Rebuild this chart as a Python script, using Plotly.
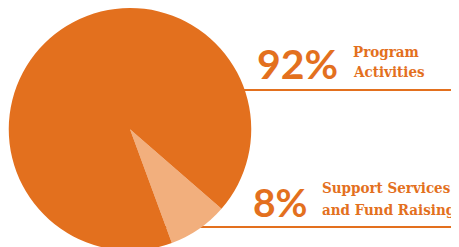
import plotly.graph_objects as go

labels = ["Support Services and Fund Raising", "Program Activities"]
values = [8, 92]
colors = ["#F2AF7D", "#E3701E"]
pct_text = ["8%", "92%"]
desc_lines = [["Support Services", "and Fund Raising"], ["Program", "Activities"]]

OFF = 8  # page body margin
W, H = 451, 245
ORANGE = "#E3701E"

def px(x):
    return (x - OFF) / W

def py(y):
    return 1 - (y - OFF) / H

# pie: centre (130,129) page px
cx, cy, r = 130, 129, 121.5
fig = go.Figure()
fig.add_trace(go.Pie(
    labels=labels, values=values, sort=False, direction="clockwise",
    rotation=131, marker=dict(colors=colors, line=dict(width=0)),
    textinfo="none", hoverinfo="none", showlegend=False,
    domain=dict(x=[px(cx - r), px(cx + r)], y=[py(cy + r), min(1, py(cy - r))]),
))

# rule lines (behind the pie)
for yline in [90, 227]:
    fig.add_shape(type="line", xref="paper", yref="paper", layer="below",
                  x0=px(130), x1=px(456), y0=py(yline), y1=py(yline),
                  line=dict(color=ORANGE, width=2))

anns = []
anns.append(dict(text=pct_text[1], x=px(255), y=py(63.5), xanchor="left", yanchor="middle",
                 font=dict(family="Lato", size=41, color=ORANGE, weight="bold")))
anns.append(dict(text=pct_text[0], x=px(251), y=py(201.5), xanchor="left", yanchor="middle",
                 font=dict(family="Lato", size=39, color=ORANGE, weight="bold")))
for i, yy in enumerate([52, 72]):
    anns.append(dict(text=desc_lines[1][i], x=px(351), y=py(yy), xanchor="left", yanchor="middle",
                     font=dict(family="DejaVu Serif Condensed", size=15, color=ORANGE, weight="bold")))
for i, yy in enumerate([188, 210]):
    anns.append(dict(text=desc_lines[0][i], x=px(320), y=py(yy), xanchor="left", yanchor="middle",
                     font=dict(family="DejaVu Serif Condensed", size=15, color=ORANGE, weight="bold")))
for a in anns:
    a.update(xref="paper", yref="paper", showarrow=False)

fig.update_layout(width=W, height=H, margin=dict(l=0, r=0, t=0, b=0),
                  paper_bgcolor="white", plot_bgcolor="white", annotations=anns)

fig.write_html("out.html")
